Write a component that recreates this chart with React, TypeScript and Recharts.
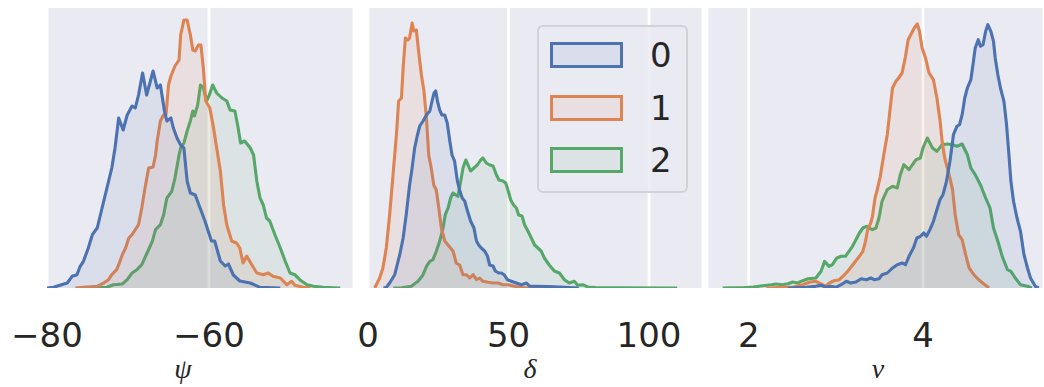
import React from 'react';
import { AreaChart, Area, XAxis, YAxis, CartesianGrid, Legend, Label } from 'recharts';

type Pt = [number, number];

// density curves: [value, density (arbitrary units, 280 = top of the axes)]
const psi0: Pt[] = [[-80,0],[-79.2,0.7],[-77.5,5],[-76.9,11.7],[-76.3,13.3],[-75.9,21.7],[-75.5,26.7],[-74.9,40],[-74.4,53.3],[-73.8,60],[-73.2,80],[-72.6,100],[-72.0,120],[-71.6,140],[-71.15,170],[-70.6,158],[-70.1,173],[-69.5,182],[-69.1,180],[-68.7,193],[-68.2,215],[-67.7,193],[-66.9,217],[-66.4,200],[-66.0,203],[-65.5,177],[-65.2,167],[-64.7,170],[-64.4,160],[-63.95,150],[-63.5,143],[-63.1,140],[-62.7,107],[-62.3,95],[-61.7,93],[-61.1,80],[-60.5,67],[-59.7,47],[-59.3,47],[-58.6,27],[-58.0,22],[-57.6,24],[-57.0,13],[-56.2,7],[-54.9,5],[-53.7,0.7],[-51.2,0]];
const psi1: Pt[] = [[-76.5,0],[-75.5,0.7],[-73.8,1.7],[-73.0,5],[-72.4,8.3],[-72.0,13.3],[-71.4,18.3],[-71.15,23.3],[-70.7,33.3],[-70.3,40],[-69.9,50],[-69.5,53.3],[-69.1,58.3],[-68.7,63.3],[-68.3,80],[-67.9,100],[-67.45,120],[-66.9,121],[-66.6,133],[-66.4,147],[-66.0,167],[-65.6,173],[-65.3,174],[-65.0,203],[-64.7,212],[-64.2,222],[-63.7,228],[-63.5,253],[-63.1,268],[-62.7,268],[-62.3,253],[-62.0,238],[-61.7,237],[-61.3,243],[-61.0,243],[-60.7,220],[-60.4,187],[-59.9,180],[-59.5,163],[-59.05,140],[-58.6,117],[-58.2,83],[-57.8,63],[-57.2,47],[-56.6,45],[-56.2,40],[-55.8,25],[-55.35,32],[-54.7,23],[-54.1,15],[-53.3,13.3],[-52.7,15],[-52.1,11.7],[-51.2,10],[-50.4,3.3],[-49.8,6.7],[-49.4,2.7],[-48.35,0.7],[-47.5,0]];
const psi2: Pt[] = [[-74,0],[-72.6,0.7],[-71.8,3.3],[-70.7,4],[-70.1,8.3],[-69.5,15],[-68.9,18.3],[-68.3,23.3],[-67.65,35],[-67.0,46.7],[-66.6,58.3],[-66.0,63.3],[-65.6,73.3],[-65.2,90],[-64.6,96.7],[-64.2,110],[-63.7,133],[-63.5,140],[-63.1,145],[-62.7,157],[-62.3,167],[-62.0,177],[-61.8,172],[-61.4,183],[-61.05,203],[-60.7,200],[-60.3,187],[-59.96,193],[-59.55,203],[-59.05,195],[-58.4,190],[-57.8,187],[-57.4,178],[-56.8,177],[-56.4,160],[-56.1,145],[-55.6,147],[-54.9,140],[-54.5,133],[-54.1,107],[-53.7,90],[-53.3,83],[-52.9,70],[-52.5,67],[-51.85,53],[-51.2,40],[-50.6,27],[-50.0,15],[-49.4,13.3],[-48.8,8.3],[-47.9,3.3],[-47.1,1.7],[-45.9,0.7],[-43.8,0]];

const delta0: Pt[] = [[5.5,0],[6.5,0.5],[7.7,5],[9.5,13.3],[11.3,33.3],[12.5,50],[13.6,73.3],[14.8,103],[15.7,120],[16.6,140],[17.6,153],[18.4,162],[19.6,167],[20.8,173],[22.0,177],[22.8,187],[23.5,195],[24.1,197],[24.7,187],[25.5,178],[26.3,173],[27.3,173],[28.2,165],[29.1,147],[29.9,133],[30.8,127],[31.8,107],[32.6,98],[33.5,90],[34.4,87],[35.4,77],[36.5,67],[37.7,60],[38.6,47],[39.4,43],[40.3,40],[41.5,37],[42.5,32],[43.3,23],[44.5,22],[45.3,17],[46.5,15],[47.5,15],[48.4,13.3],[49.6,8.3],[51,6.7],[52.8,5],[54.6,3.3],[56.4,5],[57.5,1.7],[59.3,1.7],[64,1.5],[68.3,1],[75,0]];
const delta1: Pt[] = [[2.4,0],[4.15,10],[5.3,20],[6.5,40],[7.7,73],[8.9,113],[10.1,153],[10.9,187],[11.9,190],[12.5,220],[13.3,250],[14.2,248],[14.8,250],[15.7,265],[16.25,257],[17.2,258],[18.0,237],[19.0,213],[19.9,197],[20.8,170],[21.6,133],[22.5,120],[23.4,103],[24.3,98],[25.2,80],[26.1,60],[27.3,47],[28.5,43],[30.25,37],[31.4,25],[32.6,23],[33.8,13.3],[35.0,13.3],[36.2,10],[37.4,13.3],[38.6,8.3],[39.7,10],[40.9,6.7],[42.7,5.7],[44.5,5],[46.3,5],[48,3.3],[49.8,3.3],[52.2,1.7],[54.6,0.5],[60,0.3],[70,0]];
const delta2: Pt[] = [[9,0],[11.9,0.3],[15.4,1.7],[17.8,6.7],[19.6,13.3],[20.8,21.7],[22.0,26.7],[23.1,28.3],[24.3,36.7],[25.5,46.7],[26.7,60],[27.5,73.3],[28.5,80],[29.4,90],[30.25,95],[31.1,93.3],[32.0,91.7],[33.0,107],[33.8,120],[34.8,128],[35.6,123],[36.5,117],[37.7,120],[38.9,123],[40.1,128],[40.9,130],[42.1,125],[43.3,123],[44.5,122],[45.7,113],[46.6,108],[48.0,107],[49.0,105],[49.8,98],[50.8,88],[51.8,83],[52.8,80],[53.6,73],[54.8,72],[55.75,63],[56.9,57],[58.1,50],[59.3,43],[61.6,37],[62.75,30],[64.5,23],[66.3,17],[68.1,15],[69.9,8.3],[71.6,5],[73.4,6.7],[74.6,2.7],[76.4,3.3],[78.2,1],[81.1,0.5],[90,0.2],[110,0]];

const nu0: Pt[] = [[2.45,0],[2.54,0.3],[2.66,0.7],[2.77,1.7],[2.83,2.7],[2.89,0.7],[2.94,1.7],[3.0,0.7],[3.06,3.3],[3.12,6.7],[3.17,5],[3.23,6],[3.29,9.3],[3.35,8.3],[3.40,10],[3.44,8.3],[3.495,9.3],[3.53,13.3],[3.59,15],[3.65,20],[3.705,23.3],[3.76,25],[3.80,23.3],[3.84,31.7],[3.89,40],[3.93,50],[3.97,51.7],[4.01,55],[4.04,51.7],[4.08,58.3],[4.12,66.7],[4.16,78.3],[4.195,88.3],[4.23,93.3],[4.27,106.7],[4.31,126.7],[4.35,153.3],[4.39,161.7],[4.42,163.3],[4.45,173.3],[4.48,190],[4.51,200],[4.55,208.3],[4.58,226.7],[4.60,240],[4.635,248.3],[4.66,241.7],[4.69,243.3],[4.72,256.7],[4.745,263.3],[4.78,256.7],[4.81,246.7],[4.83,230],[4.86,213.3],[4.89,200],[4.93,186.7],[4.96,163.3],[4.99,130],[5.01,106.7],[5.04,86.7],[5.08,70],[5.12,56.7],[5.16,33.3],[5.20,20],[5.235,10],[5.29,1.7],[5.33,0]];
const nu1: Pt[] = [[2.2,0],[2.275,0.2],[2.39,0.8],[2.505,0.8],[2.62,3.3],[2.70,6],[2.77,6.7],[2.83,4],[2.88,1.7],[2.925,5],[2.98,7.3],[3.04,8.3],[3.10,13.3],[3.15,18.3],[3.21,25],[3.27,31.7],[3.31,36.7],[3.34,46.7],[3.365,58.3],[3.40,65],[3.42,71.7],[3.45,90],[3.48,100],[3.51,111.7],[3.55,133.3],[3.59,153.3],[3.62,176.7],[3.65,200],[3.69,206.7],[3.72,210],[3.76,215],[3.80,231.7],[3.83,248.3],[3.86,253.3],[3.90,260],[3.935,264],[3.96,256.7],[3.99,240],[4.03,230],[4.07,215],[4.12,208.3],[4.16,190],[4.195,168.3],[4.22,146.7],[4.25,130],[4.30,113.3],[4.34,98.3],[4.37,73.3],[4.41,53.3],[4.45,48.3],[4.49,33.3],[4.53,20],[4.585,13.3],[4.64,8.3],[4.70,4],[4.76,0]];
const nu2: Pt[] = [[1.7,0],[1.78,0.2],[1.93,0.3],[2.05,1],[2.16,2.3],[2.26,3.3],[2.31,4],[2.39,3.3],[2.45,4.3],[2.505,6],[2.56,5],[2.62,7.3],[2.68,9.3],[2.77,10],[2.83,16.7],[2.87,26.7],[2.92,21.7],[2.96,23.3],[3.01,30],[3.06,31.7],[3.11,31.7],[3.15,36.7],[3.19,41.7],[3.23,48.3],[3.27,55],[3.31,60],[3.35,61.7],[3.38,60],[3.42,58.3],[3.46,60],[3.495,70],[3.53,86.7],[3.59,98.3],[3.65,101.7],[3.705,100],[3.74,113.3],[3.78,123.3],[3.84,118.3],[3.88,123.3],[3.92,128.3],[3.97,130],[4.0,140],[4.05,150],[4.11,140],[4.16,136.7],[4.22,143.3],[4.28,144],[4.34,143.3],[4.39,141.7],[4.45,144],[4.51,133.3],[4.55,120],[4.60,113.3],[4.66,103.3],[4.72,90],[4.77,80],[4.81,60],[4.86,46.7],[4.91,31.7],[4.97,18.3],[5.01,16.7],[5.06,10],[5.12,3.3],[5.20,1.7],[5.25,0]];

const SERIES_NAMES = ['0', '1', '2'];
const COLORS = ['#4C72B0', '#DD8452', '#55A868'];

const psiTicks = [-80, -60];
const deltaTicks = [0, 50, 100];
const nuTicks = [2, 4];

const W = 1044;
const H = 387;
const AXIS_H = 99;
const BG = '#EAEAF2';
const TEXT = '#262626';
const SANS = "'DejaVu Sans', sans-serif";

const toPts = (a: Pt[]) => a.map(([x, y]) => ({ x, y }));
const fmt = (v: number) => (v < 0 ? '\u2212' + Math.abs(v) : String(v));

function Tick({ x, y, payload }: any) {
  return (
    <text x={x} y={y + 58.5} textAnchor="middle" fontSize={34} fontFamily={SANS} fill={TEXT}>
      {fmt(payload.value)}
    </text>
  );
}

function LegendBox() {
  const tops = [14.5, 67.5, 119.5];
  return (
    <div style={{
      boxSizing: 'border-box', width: 151, height: 168, border: '2px solid #D2D2D6', borderRadius: 6,
      background: 'rgba(234,234,242,0.8)', position: 'relative',
    }}>
      {SERIES_NAMES.map((name, i) => (
        <React.Fragment key={name}>
          <div style={{
            position: 'absolute', left: 11, top: tops[i], width: 73, height: 26, boxSizing: 'border-box',
            border: `3px solid ${COLORS[i]}`, background: COLORS[i] + '1A',
          }} />
          <div style={{
            position: 'absolute', left: 111, top: tops[i], height: 26, lineHeight: '26px',
            fontSize: 34, fontFamily: SANS, color: TEXT,
          }}>{name}</div>
        </React.Fragment>
      ))}
    </div>
  );
}

interface PanelProps {
  series: Pt[][];
  domain: [number, number];
  ticks: number[];
  symbol: string;
  left: number;
  right: number;
  labelX: number;
  legend?: boolean;
}

function Panel({ series, domain, ticks, symbol, left, right, labelX, legend }: PanelProps) {
  return (
    <div style={{ position: 'absolute', left: 0, top: 0 }}>
      <AreaChart width={W} height={H} margin={{ top: 8, right: W - right, bottom: 0, left }}>
        <CartesianGrid horizontal={false} stroke="#FFFFFF" strokeWidth={2.8} fill={BG} fillOpacity={1} />
        <XAxis
          type="number"
          dataKey="x"
          domain={domain}
          ticks={ticks}
          interval={0}
          allowDataOverflow
          axisLine={false}
          tickLine={false}
          tickSize={0}
          tickMargin={0}
          height={AXIS_H}
          tick={<Tick />}
        >
          <Label
            content={() => (
              <text x={labelX} y={378} textAnchor="middle" fontSize={28} fontStyle="italic"
                fontFamily="'Liberation Serif', serif" fill={TEXT}>{symbol}</text>
            )}
          />
        </XAxis>
        <YAxis hide domain={[0, 280]} allowDataOverflow />
        {[2, 1, 0].map((i) => (
          <Area
            key={i}
            name={SERIES_NAMES[i]}
            data={toPts(series[i])}
            dataKey="y"
            type="linear"
            stroke={COLORS[i]}
            strokeWidth={3.1}
            strokeLinejoin="round"
            fill={COLORS[i]}
            fillOpacity={0.1}
            dot={false}
            activeDot={false}
            isAnimationActive={false}
          />
        ))}
        {legend && (
          <Legend
            layout="vertical"
            align="center"
            verticalAlign="middle"
            wrapperStyle={{ left: 537, top: 25, width: 151, height: 168 }}
            content={() => <LegendBox />}
          />
        )}
      </AreaChart>
    </div>
  );
}

export default function App() {
  return (
    <div style={{ position: 'absolute', left: 0, top: 0, width: W, height: H, background: '#fff', overflow: 'hidden' }}>
      <Panel series={[psi0, psi1, psi2]} domain={[-80, -42.1]} ticks={psiTicks} symbol={'\u03C8'}
        left={47} right={354} labelX={183} />
      <Panel series={[delta0, delta1, delta2]} domain={[0, 119.2]} ticks={deltaTicks} symbol={'\u03B4'}
        left={368} right={703} labelX={530} legend />
      <Panel series={[nu0, nu1, nu2]} domain={[1.52, 5.39]} ticks={nuTicks} symbol={'\u03BD'}
        left={707} right={1044} labelX={878} />
    </div>
  );
}
